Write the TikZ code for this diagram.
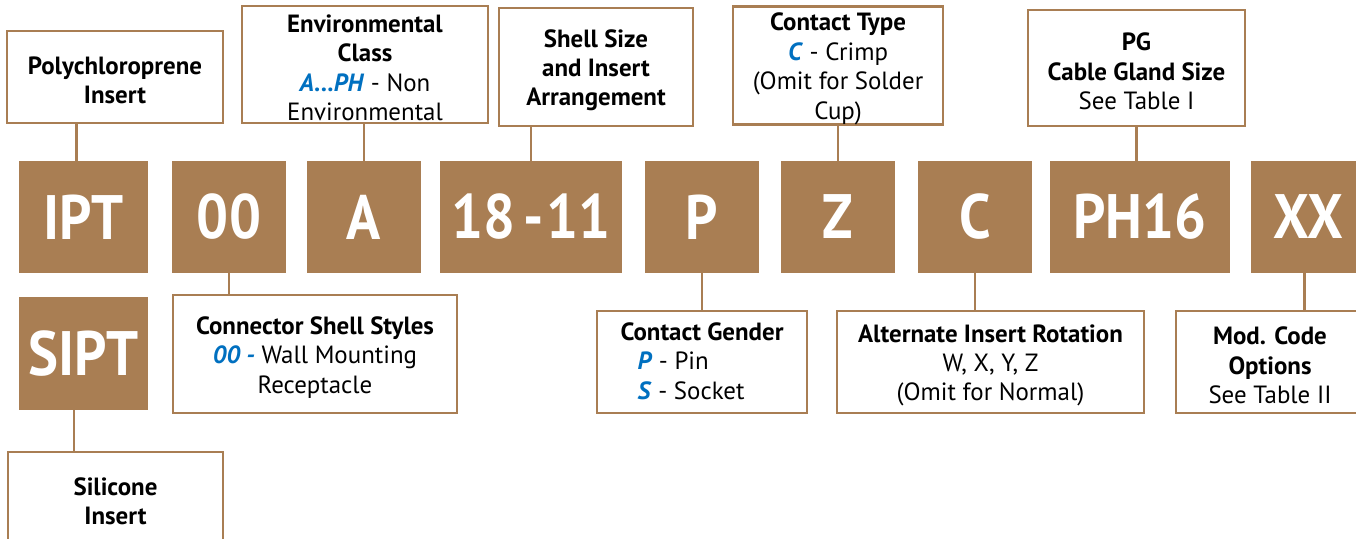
\documentclass[tikz,border=0pt]{standalone}
\usepackage{fontspec}
\setmainfont{PT Sans}
\newfontfamily\codefont[FakeStretch=0.9]{PT Sans}
\newcommand{\code}[1]{\textcolor{codeblue}{\textbf{\textit{#1}}}}
\newcommand{\ttl}[1]{\rule{0pt}{24.5bp}\textbf{#1}}

\begin{document}
\begin{tikzpicture}[x=1bp,y=-1bp,
  codebox/.style={fill=brn,text=white,inner sep=0pt,minimum height=112bp,
    font=\codefont\fontsize{63}{63}\selectfont\bfseries},
  tagbox/.style={draw=brn,line width=2.5bp,fill=white,inner sep=0pt,align=center,
    font=\fontsize{25}{29.5}\selectfont},
  link/.style={draw=brn,line width=2.5bp}]

\definecolor{brn}{RGB}{169,126,83}
\definecolor{codeblue}{RGB}{0,112,192}

\useasboundingbox (0,0) rectangle (1356,539);

\node[codebox,minimum width=129bp](ipt) at (83.5,217){IPT};
\node[codebox,minimum width=114bp](cs) at (229,217){00};
\node[codebox,minimum width=114bp](ec) at (364,217){A};
\node[codebox,minimum width=182bp](sz) at (531,217){18\hspace{0.14em}-\hspace{0.04em}11};
\node[codebox,minimum width=114bp](gd) at (702,217){P};
\node[codebox,minimum width=114bp](ct) at (838,217){Z};
\node[codebox,minimum width=114bp](ar) at (975,217){C};
\node[codebox,minimum width=180bp](pg) at (1140,217){PH16};
\node[codebox,minimum width=114bp](mc) at (1308,217){XX};
\node[codebox,minimum width=129bp,minimum height=113bp](sipt) at (83.5,353.5){SIPT};

\node[tagbox,minimum width=216bp,minimum height=92bp](poly) at (115,77)
  {\ttl{Polychloroprene}\\\textbf{Insert}};
\node[tagbox,minimum width=246bp,minimum height=117bp](envcls) at (365,64.5)
  {\ttl{Environmental}\\\textbf{Class}\\\code{A...PH} - Non\\Environmental};
\node[tagbox,minimum width=194bp,minimum height=118bp](shellsz) at (596,67)
  {\ttl{Shell Size}\\\textbf{and Insert}\\\textbf{Arrangement}};
\node[tagbox,minimum width=210bp,minimum height=115bp](ctype) at (838,65.5)
  {\ttl{Contact Type}\\\code{C} - Crimp\\(Omit for Solder\\Cup)};
\node[tagbox,minimum width=217bp,minimum height=116bp](pgsize) at (1136.5,68)
  {\ttl{PG}\\\textbf{Cable Gland Size}\\See Table I};

\node[tagbox,minimum width=284bp,minimum height=118bp](shellsty) at (315,354)
  {\ttl{Connector Shell Styles}\\\code{00 -} Wall Mounting\\Receptacle};
\node[tagbox,minimum width=210bp,minimum height=102bp](cgender) at (702,362)
  {\ttl{Contact Gender}\\\hspace*{-22bp}\begin{tabular}[t]{@{}l@{}}\code{P} - Pin\\\code{S} - Socket\end{tabular}};
\node[tagbox,minimum width=307bp,minimum height=102bp](altrot) at (990.5,362)
  {\ttl{Alternate Insert Rotation}\\W, X, Y, Z\\(Omit for Normal)};
\node[tagbox,minimum width=188bp,minimum height=102bp](modcode) at (1270,362)
  {\ttl{Mod. Code}\\\textbf{Options}\\See Table II};
\node[tagbox,minimum width=215bp,minimum height=92bp](silic) at (115.5,498)
  {\ttl{Silicone}\\\textbf{Insert}};

\draw[link]([xshift=-7bp]ipt.north)--([xshift=-7bp]ipt.north |- poly.south);
\draw[link](ec.north)--(ec.north |- envcls.south);
\draw[link](sz.north)--(sz.north |- shellsz.south);
\draw[link](ct.north)--(ct.north |- ctype.south);
\draw[link](pgsize.south)--(pgsize.south |- pg.north);
\draw[link](cs.south)--(cs.south |- shellsty.north);
\draw[link](gd.south)--(gd.south |- cgender.north);
\draw[link](ar.south)--(ar.south |- altrot.north);
\draw[link]([xshift=-3.5bp]mc.south)--([xshift=-3.5bp]mc.south |- modcode.north);
\draw[link]([xshift=-9.5bp]sipt.south)--([xshift=-9.5bp]sipt.south |- silic.north);

\end{tikzpicture}
\end{document}
